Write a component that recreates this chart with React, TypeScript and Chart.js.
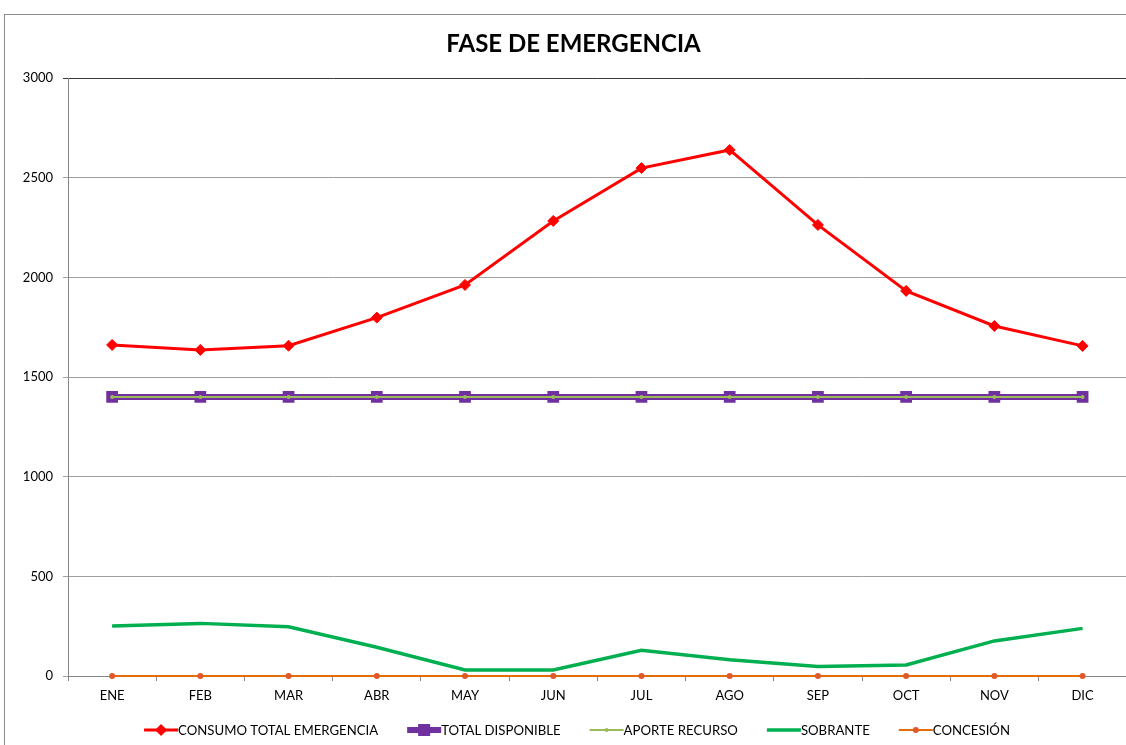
import React, { useEffect, useRef } from "react";
import { Chart, registerables } from "chart.js";

Chart.register(...registerables);

const TITLE = "FASE DE EMERGENCIA";
const MONTHS = ["ENE", "FEB", "MAR", "ABR", "MAY", "JUN", "JUL", "AGO", "SEP", "OCT", "NOV", "DIC"];
const CONSUMO_TOTAL = [1661, 1636, 1657, 1798, 1962, 2283, 2548, 2639, 2263, 1932, 1756, 1656];
const TOTAL_DISPONIBLE = [1400, 1400, 1400, 1400, 1400, 1400, 1400, 1400, 1400, 1400, 1400, 1400];
const APORTE_RECURSO = [1400, 1400, 1400, 1400, 1400, 1400, 1400, 1400, 1400, 1400, 1400, 1400];
const SOBRANTE = [251, 264, 247, 144, 30, 30, 129, 82, 48, 55, 176, 239];
const CONCESION = [0, 0, 0, 0, 0, 0, 0, 0, 0, 0, 0, 0];
const Y_MIN = 0;
const Y_MAX = 3000;
const Y_STEP = 500;

const FONT = "Lato, 'Noto Sans', sans-serif";

type LegendSpec = {
  text: string;
  color: string;
  lineWidth: number;
  marker: "diamond" | "square" | "circle" | "none";
  markerColor: string;
  markerSize: number;
};

const LEGEND: LegendSpec[] = [
  { text: "CONSUMO TOTAL EMERGENCIA", color: "#FF0000", lineWidth: 3, marker: "diamond", markerColor: "#FF0000", markerSize: 6 },
  { text: "TOTAL DISPONIBLE", color: "#7030A0", lineWidth: 6, marker: "square", markerColor: "#7030A0", markerSize: 6 },
  { text: "APORTE RECURSO", color: "#9BBB59", lineWidth: 2, marker: "circle", markerColor: "#9BBB59", markerSize: 2 },
  { text: "SOBRANTE", color: "#00B050", lineWidth: 3.5, marker: "none", markerColor: "#00B050", markerSize: 0 },
  { text: "CONCESIÓN", color: "#E46C0A", lineWidth: 2, marker: "circle", markerColor: "#E0592A", markerSize: 3 },
];

const titleLegendPlugin = {
  id: "excelTitleLegend",
  afterDraw(chart: any) {
    const ctx: CanvasRenderingContext2D = chart.ctx;
    ctx.save();
    // title
    ctx.font = `bold 24px ${FONT}`;
    ctx.fillStyle = "#000";
    ctx.textAlign = "center";
    ctx.textBaseline = "middle";
    ctx.fillText(TITLE, 573.5, 44);

    // legend
    ctx.font = `13.2px ${FONT}`;
    const lineLen = 34;
    const gap = 29;
    const widths = LEGEND.map((l) => lineLen + ctx.measureText(l.text).width);
    const total = widths.reduce((a, b) => a + b, 0) + gap * (LEGEND.length - 1);
    let x = 577 - total / 2;
    const y = 730;
    LEGEND.forEach((l, i) => {
      ctx.strokeStyle = l.color;
      ctx.lineWidth = l.lineWidth;
      ctx.beginPath();
      ctx.moveTo(x, y);
      ctx.lineTo(x + lineLen, y);
      ctx.stroke();
      const cx = x + lineLen / 2;
      ctx.fillStyle = l.markerColor;
      const s = l.markerSize;
      if (l.marker === "diamond") {
        ctx.beginPath();
        ctx.moveTo(cx, y - s);
        ctx.lineTo(cx + s, y);
        ctx.lineTo(cx, y + s);
        ctx.lineTo(cx - s, y);
        ctx.closePath();
        ctx.fill();
      } else if (l.marker === "square") {
        ctx.fillRect(cx - s, y - s, 2 * s, 2 * s);
      } else if (l.marker === "circle") {
        ctx.beginPath();
        ctx.arc(cx, y, s, 0, Math.PI * 2);
        ctx.fill();
      }
      ctx.fillStyle = "#000";
      ctx.textBaseline = "middle";
      ctx.textAlign = "left";
      ctx.fillText(l.text, x + lineLen, y + 1);
      x += widths[i] + gap;
    });
    ctx.restore();
  },
};

export default function App() {
  const canvasRef = useRef<HTMLCanvasElement | null>(null);

  useEffect(() => {
    if (!canvasRef.current) return;
    const chart = new Chart(canvasRef.current, {
      type: "line",
      data: {
        labels: MONTHS,
        datasets: [
          {
            label: LEGEND[0].text,
            data: CONSUMO_TOTAL,
            borderColor: "#FF0000",
            backgroundColor: "#FF0000",
            borderWidth: 3,
            pointStyle: "rectRot",
            pointRadius: 5.5,
            pointBorderWidth: 1,
            pointBackgroundColor: "#FF0000",
            pointBorderColor: "#FF0000",
            tension: 0,
            order: 0,
          },
          {
            label: LEGEND[1].text,
            data: TOTAL_DISPONIBLE,
            borderColor: "#7030A0",
            backgroundColor: "#7030A0",
            borderWidth: 6,
            pointStyle: "rect",
            pointRadius: 8.3,
            pointBorderWidth: 0,
            pointBackgroundColor: "#7030A0",
            tension: 0,
            order: 4,
          },
          {
            label: LEGEND[2].text,
            data: APORTE_RECURSO,
            borderColor: "#9BBB59",
            backgroundColor: "#9BBB59",
            borderWidth: 2,
            pointStyle: "circle",
            pointRadius: 2,
            pointBorderWidth: 0,
            pointBackgroundColor: "#9BBB59",
            tension: 0,
            order: 3,
          },
          {
            label: LEGEND[3].text,
            data: SOBRANTE,
            borderColor: "#00B050",
            backgroundColor: "#00B050",
            borderWidth: 3.5,
            pointRadius: 0,
            tension: 0,
            order: 2,
          },
          {
            label: LEGEND[4].text,
            data: CONCESION,
            borderColor: "#E46C0A",
            backgroundColor: "#E0592A",
            borderWidth: 2,
            pointStyle: "circle",
            pointRadius: 3,
            pointBorderWidth: 0,
            pointBackgroundColor: "#E0592A",
            tension: 0,
            order: 1,
            clip: false as any,
          },
        ],
      },
      options: {
        animation: false,
        responsive: false,
        devicePixelRatio: 1,
        layout: { padding: { left: 0, right: 0, top: 78, bottom: 0 } },
        plugins: {
          legend: { display: false },
          tooltip: { enabled: false },
          title: { display: false },
        },
        scales: {
          x: {
            offset: true,
            border: { color: "#868686", width: 1 },
            grid: {
              display: true,
              drawOnChartArea: false,
              drawTicks: true,
              tickLength: 5,
              color: "#868686",
              offset: true,
            },
            ticks: {
              color: "#000",
              font: { family: FONT, size: 13 },
              padding: 7,
              maxRotation: 0,
              autoSkip: false,
            },
            afterFit(axis: any) {
              axis.height = 69;
            },
          },
          y: {
            min: Y_MIN,
            max: Y_MAX,
            border: { color: "#868686", width: 1 },
            grid: {
              color: (c: any) => (c.tick && c.tick.value === Y_MAX ? "#3a3a3a" : "#a0a0a0"),
              tickLength: 5,
              drawTicks: true,
            },
            ticks: {
              stepSize: Y_STEP,
              color: "#000",
              font: { family: FONT, size: 13 },
              padding: 10,
              callback: (v: any) => String(v),
            },
            afterFit(axis: any) {
              axis.width = 68;
            },
          },
        },
      },
      plugins: [titleLegendPlugin],
    });
    return () => chart.destroy();
  }, []);

  return (
    <div
      style={{
        position: "fixed",
        left: 0,
        top: 0,
        width: 1126,
        height: 745,
        overflow: "hidden",
        background: "#fff",
      }}
    >
      <div
        style={{
          position: "absolute",
          left: 4,
          top: 14,
          width: 1200,
          height: 800,
          border: "1px solid #8c8c8c",
        }}
      />
      <canvas
        ref={canvasRef}
        width={1135}
        height={745}
        style={{ position: "absolute", left: 0, top: 0, width: 1135, height: 745 }}
      />
    </div>
  );
}
